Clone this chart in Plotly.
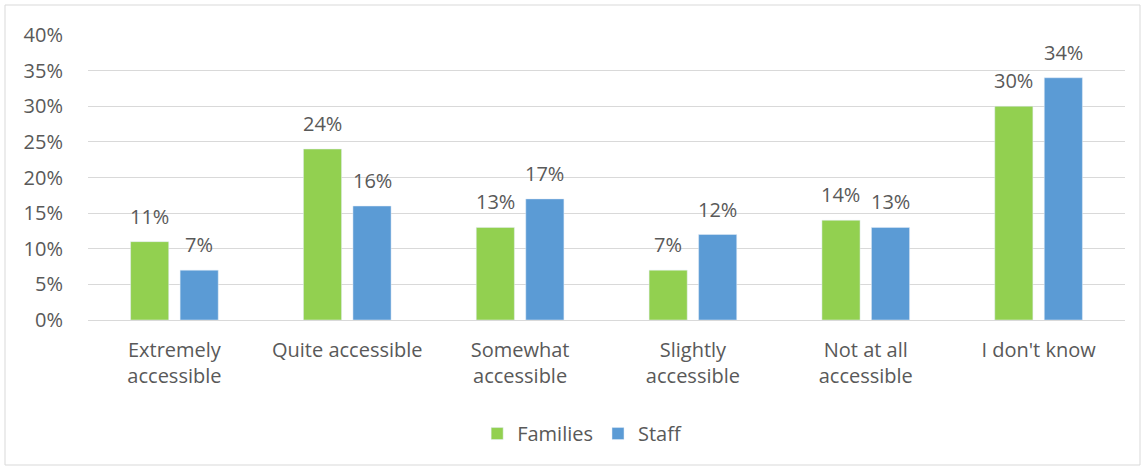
import plotly.graph_objects as go

categories = ["Extremely<br>accessible", "Quite accessible", "Somewhat<br>accessible",
              "Slightly<br>accessible", "Not at all<br>accessible", "I don't know"]
families = [11, 24, 13, 7, 14, 30]
staff = [7, 16, 17, 12, 13, 34]
y_ticks = [0, 5, 10, 15, 20, 25, 30, 35, 40]
y_tick_text = [f"{v}%" for v in y_ticks]

text_color = "#595959"
grid_color = "#D9D9D9"
font_family = "Open Sans, Liberation Sans, sans-serif"
fs = 20

L, R, T, B = 88, 20, 35, 148
W, H = 1145, 468
pw, ph = W - L - R, H - T - B

bargap, bargroupgap = 0.427, 0.23
slot_px = pw / len(categories) * (1 - bargap) / 2

fig = go.Figure()
for name, vals, color, side in [("Families", families, "#92D050", -1),
                                ("Staff", staff, "#5B9BD5", 1)]:
    fig.add_trace(go.Bar(x=categories, y=vals, name=name, marker_color=color))
    # value labels above each bar
    for c, v in zip(categories, vals):
        fig.add_annotation(
            x=c, y=v, xref="x", yref="y", text=f"{v}%", showarrow=False,
            xshift=side * slot_px / 2, yshift=10, yanchor="bottom",
            font=dict(size=fs, color=text_color),
        )

# outer chart border
fig.add_shape(
    type="rect", xref="paper", yref="paper",
    x0=(5 - L) / pw, x1=(1140 - L) / pw,
    y0=(H - B - 465) / ph, y1=(H - B - 5) / ph,
    line=dict(color=grid_color, width=1), fillcolor="rgba(0,0,0,0)",
    layer="below",
)

fig.update_layout(
    width=W, height=H,
    margin=dict(l=L, r=R, t=T, b=B),
    paper_bgcolor="white", plot_bgcolor="white",
    font=dict(family=font_family, size=fs, color=text_color),
    barmode="group", bargap=bargap, bargroupgap=bargroupgap,
    showlegend=True,
    legend=dict(orientation="h", x=0.477, xanchor="center",
                y=-0.33, yanchor="top", font=dict(size=fs, color=text_color),
                itemwidth=30, traceorder="normal"),
    xaxis=dict(showgrid=False, showline=False, ticks="", ticklabelstandoff=16,
               tickfont=dict(size=fs, color=text_color)),
    yaxis=dict(range=[0, 40], tickvals=y_ticks, ticktext=y_tick_text,
               showgrid=True, gridcolor=grid_color, gridwidth=1,
               zeroline=True, zerolinecolor=grid_color, zerolinewidth=1,
               showline=False, ticks="", ticklabelstandoff=24,
               tickfont=dict(size=fs, color=text_color)),
)

fig.write_html("out.html")
